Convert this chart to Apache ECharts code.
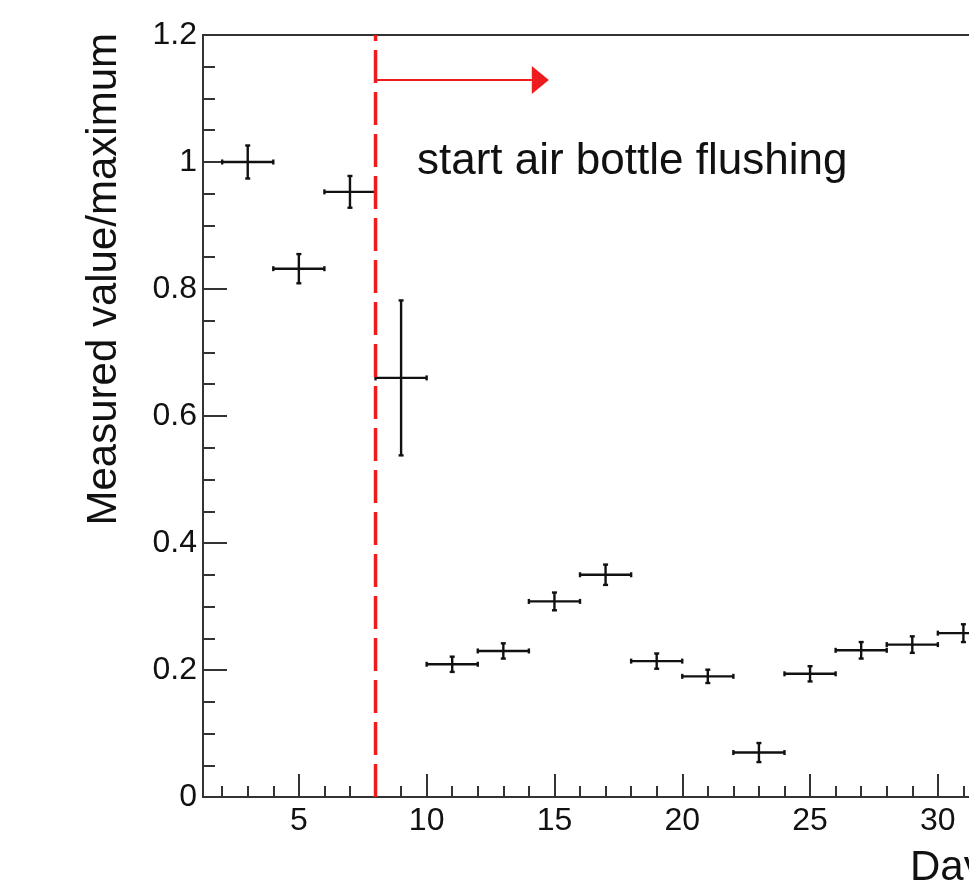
<!DOCTYPE html>
<html>
<head>
<meta charset="utf-8">
<script src="https://cdn.jsdelivr.net/npm/echarts@6/dist/echarts.min.js"></script>
<style>
  html, body { margin: 0; padding: 0; background: #fff; }
  #chart { width: 969px; height: 883px; }
</style>
</head>
<body>
<div id="chart"></div>
<script>
// ---- data ----
const days = [3, 5, 7, 9, 11, 13, 15, 17, 19, 21, 23, 25, 27, 29, 31];
const values = [1.0, 0.832, 0.953, 0.660, 0.209, 0.230, 0.308, 0.350, 0.214, 0.190, 0.070, 0.194, 0.231, 0.240, 0.258];
const yErrors = [0.026, 0.023, 0.025, 0.122, 0.012, 0.012, 0.014, 0.016, 0.012, 0.0105, 0.015, 0.012, 0.013, 0.013, 0.014];
const xErrors = [1, 1, 1, 1, 1, 1, 1, 1, 1, 1, 1, 1, 1, 1, 1];
const xMajorTicks = [5, 10, 15, 20, 25, 30];
const xMinorTicks = [2, 3, 4, 6, 7, 8, 9, 11, 12, 13, 14, 16, 17, 18, 19, 21, 22, 23, 24, 26, 27, 28, 29, 31, 32, 33];
const xRange = [1.25, 33];
const yRange = [0, 1.2];
const flushDay = 8;
const arrowLevel = 1.129;
const arrowTip = 14.78;
const annotationText = 'start air bottle flushing';
const annotationPos = [9.62, 1.0];
const xTitle = 'Days';
const yTitle = 'Measured value/maximum';

const FONT = '"Liberation Sans", Arial, Helvetica, sans-serif';
const AX = '#333333';
const RED = '#ee1c1c';

const chart = echarts.init(document.getElementById('chart'), null, { renderer: 'canvas' });

const pxPerDay = 25.56;
const gridLeft = 203;
const gridWidth = (xRange[1] - xRange[0]) * pxPerDay;

const pointData = days.map((d, i) => [d, values[i], xErrors[i], yErrors[i]]);

function renderErrorBar(params, api) {
  const x = api.value(0), y = api.value(1), ex = api.value(2), ey = api.value(3);
  const l = api.coord([x - ex, y]);
  const r = api.coord([x + ex, y]);
  const t = api.coord([x, y + ey]);
  const b = api.coord([x, y - ey]);
  const c = 2.5;
  const style = { stroke: '#111', lineWidth: 2.4, fill: null };
  const line = (x1, y1, x2, y2) => ({ type: 'line', shape: { x1, y1, x2, y2 }, style });
  return {
    type: 'group',
    children: [
      line(l[0], l[1], r[0], r[1]),
      line(t[0], t[1], b[0], b[1]),
      line(l[0], l[1] - c, l[0], l[1] + c),
      line(r[0], r[1] - c, r[0], r[1] + c),
      line(t[0] - c, t[1], t[0] + c, t[1]),
      line(b[0] - c, b[1], b[0] + c, b[1])
    ]
  };
}

function renderAnnotation(params, api) {
  const bottom = api.coord([flushDay, yRange[0]]);
  const top = api.coord([flushDay, yRange[1]]);
  const a0 = api.coord([flushDay, arrowLevel]);
  const a1 = api.coord([arrowTip, arrowLevel]);
  const headLen = 17, headHalf = 14;
  const txt = api.coord(annotationPos);
  return {
    type: 'group',
    children: [
      { type: 'line', shape: { x1: bottom[0], y1: bottom[1], x2: top[0], y2: top[1] },
        style: { stroke: RED, lineWidth: 3.5, lineDash: [33, 9] } },
      { type: 'line', shape: { x1: a0[0], y1: a0[1], x2: a1[0] - headLen, y2: a1[1] },
        style: { stroke: RED, lineWidth: 2 } },
      { type: 'polygon', shape: { points: [[a1[0], a1[1]], [a1[0] - headLen, a1[1] - headHalf], [a1[0] - headLen, a1[1] + headHalf]] },
        style: { fill: RED } },
      { type: 'text', x: txt[0], y: txt[1],
        style: { text: annotationText, fontSize: 44, fontFamily: FONT, fill: '#111', align: 'left', verticalAlign: 'middle' } }
    ]
  };
}

const option = {
  backgroundColor: '#fff',
  animation: false,
  grid: {
    left: gridLeft, top: 35, width: gridWidth, height: 762,
    show: true, borderColor: AX, borderWidth: 2, backgroundColor: 'transparent',
    outerBoundsMode: 'none', containLabel: false
  },
  xAxis: [
    {
      type: 'value', min: xRange[0], max: xRange[1], position: 'bottom',
      axisLine: { show: true, onZero: false, lineStyle: { color: AX, width: 2 } },
      axisTick: { show: true, inside: true, length: 23, customValues: xMajorTicks, lineStyle: { color: AX, width: 2 } },
      axisLabel: { show: true, customValues: xMajorTicks, margin: 8, fontSize: 32, fontFamily: FONT, color: '#111' },
      splitLine: { show: false }
    },
    {
      type: 'value', min: xRange[0], max: xRange[1], position: 'bottom',
      axisLine: { show: false, onZero: false },
      axisTick: { show: true, inside: true, length: 11, customValues: xMinorTicks, lineStyle: { color: AX, width: 2 } },
      axisLabel: { show: false },
      splitLine: { show: false }
    }
  ],
  yAxis: {
    type: 'value', min: yRange[0], max: yRange[1], interval: 0.2,
    axisLine: { show: true, onZero: false, lineStyle: { color: AX, width: 2 } },
    axisTick: { show: true, inside: true, length: 24, lineStyle: { color: AX, width: 2 } },
    minorTick: { show: true, splitNumber: 4, length: 12, lineStyle: { color: AX, width: 2 } },
    axisLabel: { margin: 6, fontSize: 32, fontFamily: FONT, color: '#111' },
    splitLine: { show: false }
  },
  graphic: [
    { type: 'text', x: 104, y: 33, rotation: Math.PI / 2,
      style: { text: yTitle, fontSize: 42, fontFamily: FONT, fill: '#111', align: 'right', verticalAlign: 'middle' } },
    { type: 'text', x: 910, y: 868,
      style: { text: xTitle, fontSize: 42, fontFamily: FONT, fill: '#111', align: 'left', verticalAlign: 'middle' } }
  ],
  series: [
    {
      type: 'custom', xAxisIndex: 0, yAxisIndex: 0, clip: true,
      renderItem: renderErrorBar,
      data: pointData,
      z: 3
    },
    {
      type: 'custom', xAxisIndex: 0, yAxisIndex: 0, clip: false,
      renderItem: renderAnnotation,
      data: [[flushDay, arrowLevel]],
      z: 4
    }
  ]
};

chart.setOption(option);
</script>
</body>
</html>
